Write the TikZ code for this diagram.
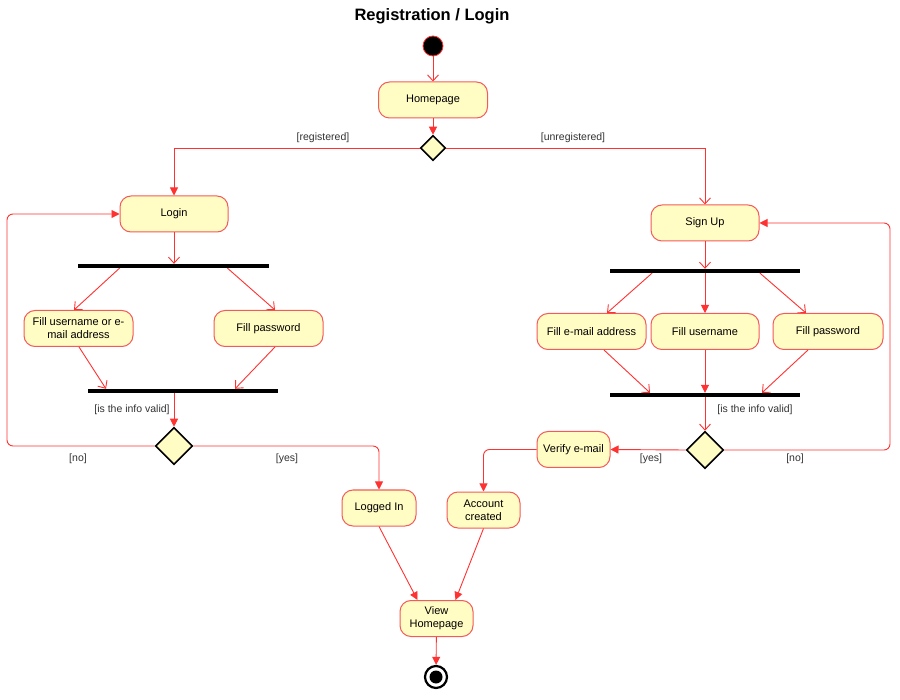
\documentclass[tikz,border=0pt]{standalone}
\usepackage{fontspec}
\setmainfont{Liberation Sans}
\usetikzlibrary{arrows.meta,shapes.geometric}
\definecolor{lred}{RGB}{255,50,50}
\definecolor{bred}{RGB}{245,90,90}
\definecolor{pyel}{RGB}{255,252,196}
\tikzset{
  x=1pt,y=-1pt,
  every node/.style={font=\fontsize{11}{13}\selectfont},
  act/.style={draw=bred,fill=pyel,line width=1pt,rounded corners=11pt,minimum height=36pt,inner sep=2pt,align=center},
  dec/.style={draw=black,fill=pyel,line width=1.6pt,diamond,inner sep=0pt,minimum width=#1,minimum height=#1,aspect=1},
  bar/.style={fill=black,inner sep=0pt,minimum height=4pt},
  flow/.style={draw=lred,line width=0.9pt,-{Straight Barb[length=6pt,width=11pt]}},
  flowf/.style={draw=lred,line width=0.9pt,-{Triangle[length=8pt,width=8pt]}},
  lbl/.style={text=black!80,font=\fontsize{10.5}{12}\selectfont},
}
\begin{document}
\begin{tikzpicture}
\useasboundingbox (0,0) rectangle (900,700);
\fill[white] (0,0) rectangle (900,700);
\node[font=\fontsize{16.5}{19}\bfseries] (title) at (432,16) {Registration / Login};
\node[circle,fill=black,draw=lred,line width=0.8pt,minimum size=20pt,inner sep=0pt] (start) at (433,46) {};
\node[act,minimum width=109pt] (home) at (433,100) {Homepage};
\node[dec=25pt] (d1) at (433,148) {};
\node[act,minimum width=108pt] (login) at (174,214) {Login};
\node[act,minimum width=108pt] (signup) at (705,223) {Sign Up};
\node[bar,minimum width=191pt] (b1) at (173.5,266) {};
\node[act,minimum width=109pt] (fu) at (78.5,328.5) {Fill username or e-\\mail address};
\node[act,minimum width=109pt] (fp) at (268.5,328.5) {Fill password};
\node[bar,minimum width=190pt] (b2) at (183,391) {};
\node[dec=37pt] (d2) at (174,446) {};
\node[act,minimum width=74pt] (logged) at (379,508) {Logged In};
\node[bar,minimum width=190pt] (b3) at (705,271) {};
\node[act,minimum width=109pt] (fe) at (591.5,331.5) {Fill e-mail address};
\node[act,minimum width=108pt] (fu2) at (705,331.5) {Fill username};
\node[act,minimum width=110pt] (fp2) at (828,331.5) {Fill password};
\node[bar,minimum width=190pt] (b4) at (705,395) {};
\node[dec=37pt] (d3) at (705,450) {};
\node[act,minimum width=73pt] (verify) at (573.5,449.5) {Verify e-mail};
\node[act,minimum width=73pt] (acc) at (483.5,510) {Account\\created};
\node[act,minimum width=73pt] (view) at (436.5,618.5) {View\\Homepage};
\node[circle,draw=black,line width=2.2pt,minimum size=22pt,inner sep=0pt] (end) at (436,677) {};
\node[circle,fill=black,minimum size=13pt,inner sep=0pt] (endin) at (436,677) {};
\coordinate (lx) at (7,0);
\coordinate (rx) at (890,0);
% flows
\draw[flow] (start) -- (home);
\draw[flowf] (home) -- (d1);
\draw[flowf] (d1.west) -| (login.north);
\draw[flow] (d1.east) -| (signup.north);
\node[lbl] (lreg) at (323,138) {[registered]};
\node[lbl] (lunreg) at (573,138) {[unregistered]};
\draw[flow] (login) -- (b1.north -| login);
\draw[flow] ([xshift=-54pt]b1.south) -- (fu.north -| 74,0);
\draw[flow] ([xshift=54pt]b1.south) -- (fp.north -| 275,0);
\draw[flow] (fu.south -| 79,0) -- ([xshift=-77pt]b2.north);
\draw[flow] (fp.south -| 275,0) -- ([xshift=52pt]b2.north);
\draw[flowf] (b2.south -| d2) -- (d2.north);
\node[lbl] (liv1) at (132,410) {[is the info valid]};
\draw[flowf,rounded corners=6pt] (d2.west) -- (d2.west -| lx) |- (login.west);
\draw[flowf,rounded corners=6pt] (d2.east) -| (logged.north);
\node[lbl] (lno1) at (78,459) {[no]};
\node[lbl] (lyes1) at (287,459) {[yes]};
\draw[flow] (signup) -- (b3.north -| signup);
\draw[flow] ([xshift=-53pt]b3.south) -- (fe.north -| 607,0);
\draw[flowf] (b3.south) -- (fu2.north);
\draw[flow] ([xshift=55pt]b3.south) -- (fp2.north -| 806,0);
\draw[flow] (fe.south -| 604,0) -- ([xshift=-55pt]b4.north);
\draw[flowf] (fu2.south) -- (b4.north);
\draw[flow] (fp2.south -| 808,0) -- ([xshift=57pt]b4.north);
\draw[flow] (b4.south) -- (d3.north);
\node[lbl] (liv2) at (755,410) {[is the info valid]};
\draw[flowf] (d3.west) -- (verify.east);
\draw[flowf,rounded corners=6pt] (d3.east) -- (d3.east -| rx) |- (signup.east);
\node[lbl] (lyes2) at (651,459) {[yes]};
\node[lbl] (lno2) at (795,459) {[no]};
\draw[flowf,rounded corners=6pt] (verify.west) -| (acc.north);
\draw[flowf] (logged.south) -- ([xshift=-19pt]view.north);
\draw[flowf] (acc.south) -- ([xshift=19pt]view.north);
\draw[flowf] (view) -- (end);
\end{tikzpicture}
\end{document}
